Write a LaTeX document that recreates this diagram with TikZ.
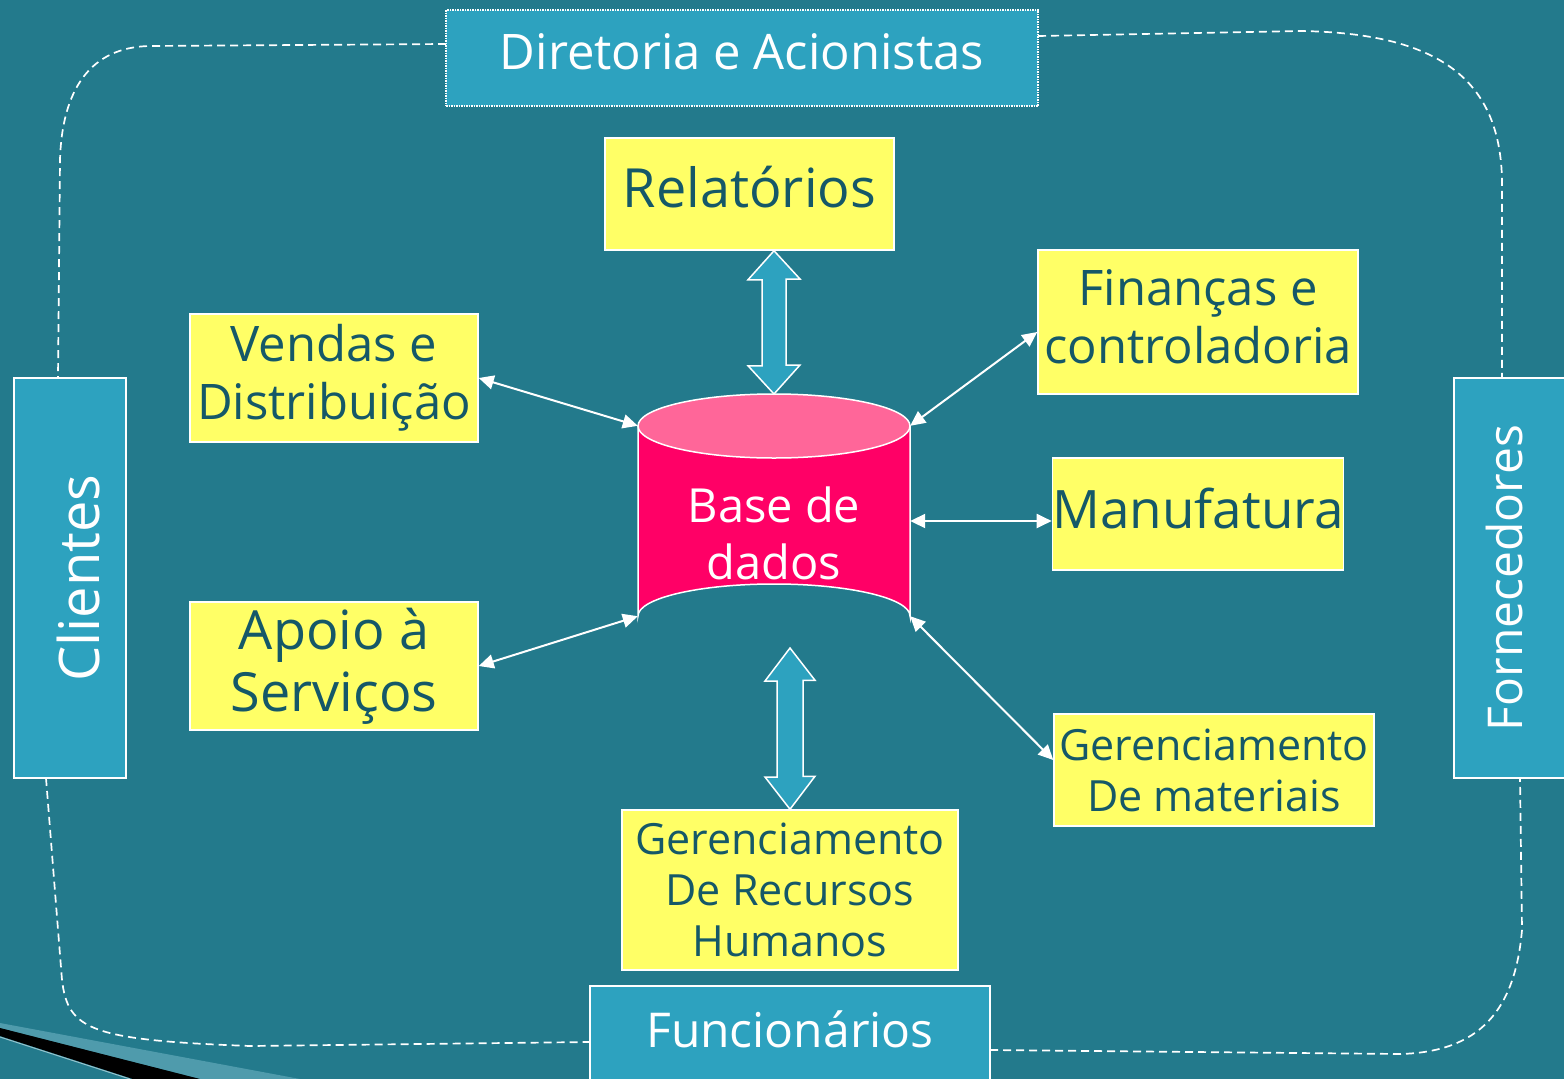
\documentclass[tikz,border=0pt]{standalone}
\usepackage{fontspec}
\setmainfont{Open Sans}
\usetikzlibrary{calc,arrows.meta}
\definecolor{bg}{HTML}{237A8C}
\definecolor{lb}{HTML}{2DA2BF}
\definecolor{yel}{HTML}{FFFF66}
\definecolor{txt}{HTML}{155868}
\definecolor{pinkb}{HTML}{FF0066}
\definecolor{pinkt}{HTML}{FF6699}
\definecolor{sweep}{HTML}{4F9BAC}
\begin{document}
\begin{tikzpicture}[x=1pt,y=-1pt,
  ybox/.style={draw=white, line width=1.5pt, fill=yel, text=txt, align=center, inner sep=0pt},
  bbox/.style={draw=white, line width=1.5pt, fill=lb, text=white, align=center, inner sep=0pt},
  link/.style={draw=white, line width=2pt, {Triangle[length=15pt,width=14pt]}-{Triangle[length=15pt,width=14pt]}},
  loopline/.style={draw=white, line width=1.7pt, dash pattern=on 8pt off 5pt},
  fat/.style={fill=lb, draw=white, line width=1.5pt, line join=miter},
]
\fill[bg] (0,0) rectangle (1564,1079);
\useasboundingbox (0,0) rectangle (1564,1079);
\clip (0,0) rectangle (1564,1079);

% bottom-left sweep
\fill[sweep] (0,1023) -- (300,1079) -- (200,1079) -- (0,1028) -- cycle;
\fill[black] (0,1028) -- (200,1079) -- (133,1079) -- (0,1036) -- cycle;
\draw[sweep!60!white, line width=1pt] (0,1037) -- (130,1079);

% dashed surrounding loop
\draw[loopline] (446,44) -- (150,46) .. controls (90,47) and (62,90) .. (60,160) -- (58,378);
\draw[loopline] (46,778) -- (62,980) .. controls (68,1030) and (90,1040) .. (250,1046) -- (590,1042);
\draw[loopline] (990,1050) -- (1400,1054) .. controls (1480,1052) and (1515,1010) .. (1522,930) -- (1520,778);
\draw[loopline] (1038,36) -- (1300,31) .. controls (1440,33) and (1500,80) .. (1502,180) -- (1502,378);

% outer boxes
\node[bbox, draw=white, densely dotted, minimum width=592pt, minimum height=96pt, text depth=13pt,
      font=\fontsize{49}{58}\selectfont] (top) at (742,58) {Diretoria e Acionistas};
\node[bbox, rotate=90, minimum width=400pt, minimum height=112pt, text height=58pt, text depth=0pt,
      font=\fontsize{56}{60}\selectfont] (cli) at (70,578) {Clientes};
\node[bbox, rotate=90, minimum width=400pt, minimum height=120pt, text depth=19pt,
      font=\fontsize{48}{56}\selectfont] (forn) at (1514,578) {Fornecedores};
\node[bbox, minimum width=400pt, minimum height=104pt, text height=36pt, text depth=18pt,
      font=\fontsize{48}{56}\selectfont] (func) at (790,1038) {Funcionários};

% yellow boxes
\node[ybox, minimum width=289pt, minimum height=112pt, text depth=14pt, font=\fontsize{54}{62}\selectfont]
  (rel) at (749.5,194) {Relatórios};
\node[ybox, minimum width=288pt, minimum height=128pt, font=\fontsize{49}{58}\selectfont]
  (vendas) at (334,378) {Vendas e\\Distribuição};
\node[ybox, minimum width=320pt, minimum height=144pt, font=\fontsize{49}{58}\selectfont]
  (fin) at (1198,322) {Finanças e\\controladoria\rule[-10pt]{0pt}{10pt}};
\node[ybox, minimum width=288pt, minimum height=112pt, text depth=12pt, font=\fontsize{53}{60}\selectfont]
  (manu) at (1198,514) {Manufatura};
\node[ybox, minimum width=288pt, minimum height=128pt, font=\fontsize{54}{62}\selectfont]
  (apoio) at (334,666) {Apoio à\\Serviços};
\node[ybox, minimum width=320pt, minimum height=112pt, font=\fontsize{43}{51}\selectfont]
  (mat) at (1214,770) {Gerenciamento\\De materiais};
\node[ybox, minimum width=336pt, minimum height=160pt, font=\fontsize{43}{51}\selectfont]
  (rh) at (790,890) {Gerenciamento\\De Recursos\\Humanos};

% database cylinder
\filldraw[fill=pinkb, draw=white, line width=1.5pt]
  (638,426) -- (638,616) arc[start angle=180, end angle=360, x radius=136, y radius=32] -- (910,426) -- cycle;
\filldraw[fill=pinkt, draw=white, line width=1.5pt] (774,426) ellipse[x radius=136, y radius=32];
\node[minimum width=272pt, minimum height=190pt, inner sep=0pt, text=white, align=center,
      font=\fontsize{47}{57}\selectfont] (db) at (774,521) {\rule{0pt}{61pt}Base de\\dados};
\coordinate (dbtop) at (774,394);
\coordinate (dbbot) at (790,648);

% block arrows
\draw[fat] (dbtop) -- ++(26,-29) -- ++(-14,0) -- ++(0,-86) -- ++(14,0) -- (dbtop |- rel.south)
  -- ++(-26,29) -- ++(14,0) -- ++(0,86) -- ++(-14,0) -- cycle;
\draw[fat] (rh.north) -- ++(25,-33) -- ++(-12,0) -- ++(0,-96) -- ++(12,0) -- (dbbot)
  -- ++(-25,33) -- ++(12,0) -- ++(0,96) -- ++(-12,0) -- cycle;

% thin links
\draw[link] (vendas.east) -- (db.north west);
\draw[link] (apoio.east) -- (db.south west);
\draw[link] ([yshift=-10pt]fin.west) -- (db.north east);
\draw[link] (db.east) -- (db.east -| manu.west);
\draw[link] ([yshift=10pt]mat.west) -- (db.south east);
\end{tikzpicture}
\end{document}
